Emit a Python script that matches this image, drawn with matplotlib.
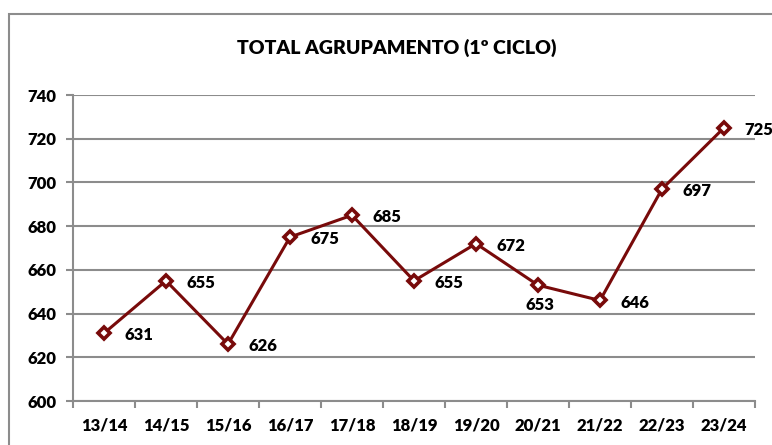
import matplotlib
matplotlib.use("Agg")
import matplotlib.pyplot as plt
from matplotlib.patches import Rectangle

categories = ["13/14", "14/15", "15/16", "16/17", "17/18", "18/19", "19/20", "20/21", "21/22", "22/23", "23/24"]
values = [631, 655, 626, 675, 685, 655, 672, 653, 646, 697, 725]
yticks = [600, 620, 640, 660, 680, 700, 720, 740]
title = "TOTAL AGRUPAMENTO (1º CICLO)"

plt.rcParams['font.family'] = ['Lato', 'DejaVu Sans']
plt.rcParams['font.weight'] = 'bold'

fig = plt.figure(figsize=(7.72, 4.45), dpi=100)
ax = fig.add_axes([73/772, 1-401/445, (755-73)/772, (401-95)/445])

# outer chart frame
fig.patches.append(Rectangle((8.5/772, -0.2), 1.2, 0.2 + 1 - 13.5/445, transform=fig.transFigure,
                             fill=False, edgecolor='#8c8c8c', linewidth=1.5, clip_on=False))

x = list(range(len(categories)))
color = '#780A0A'
ax.plot(x, values, color=color, linewidth=2.2, marker='D', markersize=6.5,
        markerfacecolor='white', markeredgecolor=color, markeredgewidth=2.6, zorder=3)

for i, v in enumerate(values):
    if categories[i] == "20/21":
        ax.annotate(str(v), (i, v), xytext=(1.5, -14), textcoords='offset points',
                    ha='center', va='center', fontsize=12, fontweight='heavy', annotation_clip=False)
    else:
        ax.annotate(str(v), (i, v), xytext=(15, -1.5), textcoords='offset points',
                    ha='left', va='center', fontsize=12, fontweight='heavy', annotation_clip=False)

ax.set_xlim(-0.5, len(categories) - 0.5)
ax.set_ylim(600, 740)
ax.set_yticks(yticks)
ax.set_xticks(x)
ax.set_xticklabels(categories, fontweight='heavy')
ax.set_yticklabels([str(t) for t in yticks], fontweight='heavy')
ax.set_xticks([i - 0.5 for i in range(len(categories) + 1)], minor=True)
ax.tick_params(axis='x', which='major', length=0, pad=12, labelsize=12)
ax.tick_params(axis='x', which='minor', length=5, width=1.5, color='#8c8c8c', direction='out')
ax.tick_params(axis='y', length=5, width=1.5, color='#8c8c8c', pad=7, labelsize=12)

ax.grid(axis='y', color='#8c8c8c', linewidth=1.5)
ax.set_axisbelow(True)
for s in ['top', 'right']:
    ax.spines[s].set_visible(False)
for s in ['left', 'bottom']:
    ax.spines[s].set_color('#8c8c8c')
    ax.spines[s].set_linewidth(1.5)

fig.text(397/772, 1-48/445, title, ha='center', va='center', fontsize=14, fontweight='heavy')

fig.savefig("out.png", dpi=100)
